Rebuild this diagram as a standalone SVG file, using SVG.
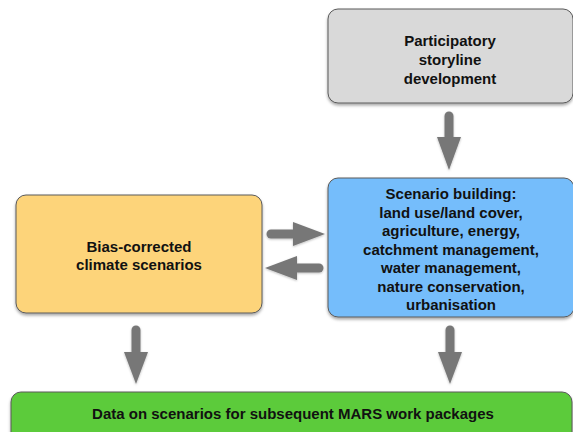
<svg xmlns="http://www.w3.org/2000/svg" width="573" height="432" viewBox="0 0 573 432">
<defs>
<filter id="sh" x="-10%" y="-10%" width="120%" height="130%">
<feDropShadow dx="0" dy="2" stdDeviation="1.5" flood-color="#000" flood-opacity="0.35"/>
</filter>
<filter id="ash" x="-20%" y="-20%" width="140%" height="140%">
<feDropShadow dx="0" dy="1" stdDeviation="1" flood-color="#000" flood-opacity="0.25"/>
</filter>
</defs>
<style>
.box{stroke:#5a5a5a;stroke-width:1;filter:url(#sh)}
.t{font-family:"Liberation Sans",Arial,Helvetica,sans-serif;font-weight:bold;font-size:15px;fill:#111;text-anchor:middle}
.shaft{stroke:#777;stroke-width:9;stroke-linecap:round;fill:none}
.head{fill:#777;stroke:none}
.arr{filter:url(#ash)}
</style>
<rect width="573" height="432" fill="#fff"/>
<g id="storyline">
<rect class="box" x="328" y="9" width="245" height="94" rx="10" fill="#d9d9d9"/>
<text class="t" x="450" y="46">Participatory</text>
<text class="t" x="450" y="65">storyline</text>
<text class="t" x="450" y="84">development</text>
</g>
<g id="scenario-building">
<rect class="box" x="328" y="178" width="246" height="139" rx="10" fill="#75bdfb"/>
<text class="t" x="451" y="199">Scenario building:</text>
<text class="t" x="451" y="217.5">land use/land cover,</text>
<text class="t" x="451" y="236">agriculture, energy,</text>
<text class="t" x="451" y="254.5">catchment management,</text>
<text class="t" x="451" y="273">water management,</text>
<text class="t" x="451" y="291.5">nature conservation,</text>
<text class="t" x="451" y="310">urbanisation</text>
</g>
<g id="climate">
<rect class="box" x="16" y="195" width="246" height="118" rx="10" fill="#fdd47a"/>
<text class="t" x="139" y="252">Bias-corrected</text>
<text class="t" x="139" y="270">climate scenarios</text>
</g>
<g id="data">
<rect class="box" x="11" y="392" width="561" height="50" rx="10" fill="#5ccb3b"/>
<text class="t" x="293" y="419">Data on scenarios for subsequent MARS work packages</text>
</g>
<g id="connectors">
<g class="arr">
<line class="shaft" x1="449" y1="116" x2="449" y2="138"/>
<polygon class="head" points="437,137 461,137 449,170"/>
</g>
<g class="arr">
<line class="shaft" x1="271" y1="234" x2="294" y2="234"/>
<polygon class="head" points="293,222 293,246 325,234"/>
</g>
<g class="arr">
<line class="shaft" x1="319" y1="268" x2="296" y2="268"/>
<polygon class="head" points="297,256 297,280 265,268"/>
</g>
<g class="arr">
<line class="shaft" x1="136" y1="330" x2="136" y2="353"/>
<polygon class="head" points="124,352 148,352 136,384"/>
</g>
<g class="arr">
<line class="shaft" x1="450" y1="330" x2="450" y2="353"/>
<polygon class="head" points="438,352 462,352 450,384"/>
</g>
</g>
</svg>
